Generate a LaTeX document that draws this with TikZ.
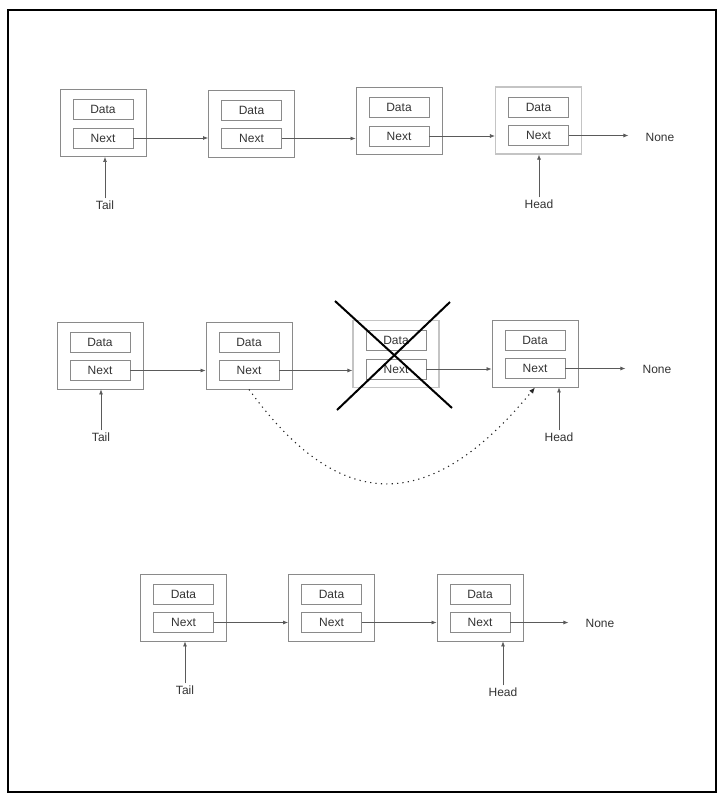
\documentclass[tikz,border=0pt]{standalone}
\usepackage{fontspec}
\setmainfont{Liberation Sans}
\usetikzlibrary{arrows.meta}
\definecolor{boxgray}{HTML}{8A8A8A}
\definecolor{lightgray}{HTML}{C4C4C4}
\definecolor{linegray}{HTML}{5A5A5A}
\definecolor{txtgray}{HTML}{333333}
\tikzset{
  outerbox/.style={draw=boxgray, line width=0.9pt, minimum width=86pt, minimum height=67pt, inner sep=0pt},
  faintbox/.style={outerbox, draw=lightgray, line width=1.2pt},
  cellbox/.style={draw=boxgray, line width=0.8pt, minimum width=60pt, minimum height=20pt, inner sep=0pt, text=txtgray, font=\fontsize{12}{14}\selectfont},
  lbl/.style={text=txtgray, font=\fontsize{12}{14}\selectfont, inner sep=2pt},
  link/.style={draw=linegray, line width=0.7pt, -{Latex[length=5pt,width=4pt]}},
  crossline/.style={draw=black, line width=2pt},
  skip/.style={draw=black!85, line width=1.1pt, dash pattern=on 1.2pt off 4.2pt, -{Latex[length=6pt,width=5pt]}}
}
\newcommand{\llnode}[4]{% name, x, y, style
  \node[#4] (#1) at (#2,#3) {};
  \node[cellbox] (#1d) at (#2,#3-13.5) {Data};
  \node[cellbox] (#1n) at (#2,#3+15) {Next};
}
\begin{document}
\begin{tikzpicture}[x=1pt,y=-1pt]
\useasboundingbox (0,0) rectangle (722,801);
\node[draw=black, line width=2pt, minimum width=708pt, minimum height=782pt, inner sep=0pt] (frame) at (362,401) {};

% Row 1
\llnode{a}{103}{123}{outerbox}
\llnode{b}{251.5}{123.5}{outerbox}
\llnode{c}{399}{121}{outerbox}
\llnode{e}{538.5}{120.5}{faintbox}
\node[lbl] (none1) at (660,137) {None};
\node[lbl] (tail1) at (105,205) {Tail};
\node[lbl] (head1) at (539,204) {Head};
\draw[link] (an.east) -- (an.east -| b.west);
\draw[link] (bn.east) -- (bn.east -| c.west);
\draw[link] (cn.east) -- (cn.east -| e.west);
\draw[link, shorten >=15pt] (en.east) -- (en.east -| none1.west);
\draw[link] (tail1.north) -- (tail1.north |- a.south);
\draw[link] (head1.north) -- (head1.north |- e.south);

% Row 2
\llnode{f}{100}{355.5}{outerbox}
\llnode{g}{249}{355.5}{outerbox}
\llnode{h}{396}{354}{faintbox}
\llnode{k}{535}{353.5}{outerbox}
\node[lbl] (none2) at (657,369) {None};
\node[lbl] (tail2) at (101,437) {Tail};
\node[lbl] (head2) at (559,437) {Head};
\draw[link] (fn.east) -- (fn.east -| g.west);
\draw[link] (gn.east) -- (gn.east -| h.west);
\draw[link] (hn.east) -- (hn.east -| k.west);
\draw[link, shorten >=15pt] (kn.east) -- (kn.east -| none2.west);
\draw[link] (tail2.north) -- (tail2.north |- f.south);
\draw[link] (head2.north) -- (head2.north |- k.south);
\draw[crossline] (335,301) -- (452,408);
\draw[crossline] (450,302) -- (337,410);
\draw[skip] (g.south) .. controls (340,515) and (430,515) .. (k.south);

% Row 3
\llnode{m}{183.5}{607.5}{outerbox}
\llnode{p}{331.5}{607.5}{outerbox}
\llnode{q}{480}{607.5}{outerbox}
\node[lbl] (none3) at (600,623) {None};
\node[lbl] (tail3) at (185,690) {Tail};
\node[lbl] (head3) at (503,692) {Head};
\draw[link] (mn.east) -- (mn.east -| p.west);
\draw[link] (pn.east) -- (pn.east -| q.west);
\draw[link, shorten >=15pt] (qn.east) -- (qn.east -| none3.west);
\draw[link] (tail3.north) -- (tail3.north |- m.south);
\draw[link] (head3.north) -- (head3.north |- q.south);
\end{tikzpicture}
\end{document}
